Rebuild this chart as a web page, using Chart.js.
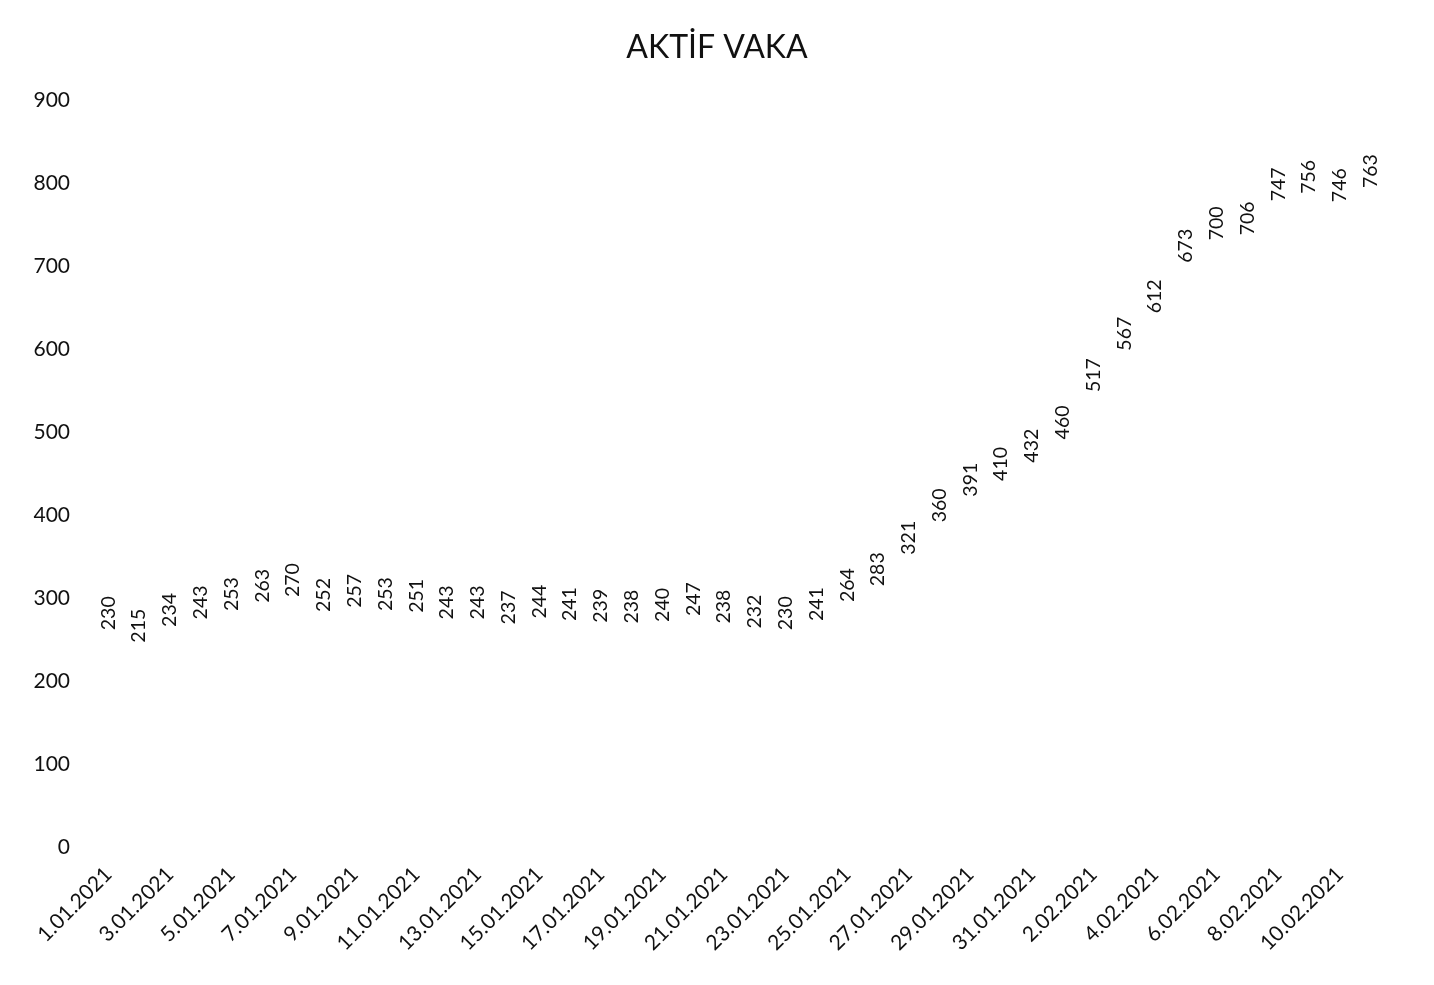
<!DOCTYPE html>
<html>
<head>
<meta charset="utf-8">
<script src="https://cdn.jsdelivr.net/npm/chart.js@4"></script>
<style>
  html, body { margin: 0; padding: 0; background: #ffffff; }
  #wrap { width: 1434px; height: 985px; }
</style>
</head>
<body>
<div id="wrap"><canvas id="c" width="1434" height="985"></canvas></div>
<script>
const titleText = 'AKTİF VAKA';
const categories = [
  '1.01.2021','2.01.2021','3.01.2021','4.01.2021','5.01.2021','6.01.2021','7.01.2021','8.01.2021','9.01.2021','10.01.2021',
  '11.01.2021','12.01.2021','13.01.2021','14.01.2021','15.01.2021','16.01.2021','17.01.2021','18.01.2021','19.01.2021','20.01.2021',
  '21.01.2021','22.01.2021','23.01.2021','24.01.2021','25.01.2021','26.01.2021','27.01.2021','28.01.2021','29.01.2021','30.01.2021',
  '31.01.2021','1.02.2021','2.02.2021','3.02.2021','4.02.2021','5.02.2021','6.02.2021','7.02.2021','8.02.2021','9.02.2021',
  '10.02.2021','11.02.2021'
];
const activeCases = [
  230, 215, 234, 243, 253, 263, 270, 252, 257, 253,
  251, 243, 243, 237, 244, 241, 239, 238, 240, 247,
  238, 232, 230, 241, 264, 283, 321, 360, 391, 410,
  432, 460, 517, 567, 612, 673, 700, 706, 747, 756,
  746, 763
];
const yTicks = [0, 100, 200, 300, 400, 500, 600, 700, 800, 900];

const FONT = 'Lato, "Open Sans", sans-serif';
const TEXT = '#111111';

const valueLabels = {
  id: 'valueLabels',
  afterDatasetsDraw(chart) {
    const ctx = chart.ctx;
    const meta = chart.getDatasetMeta(0);
    const data = chart.data.datasets[0].data;
    ctx.save();
    ctx.fillStyle = TEXT;
    ctx.font = '19.5px ' + FONT;
    ctx.textAlign = 'left';
    ctx.textBaseline = 'middle';
    meta.data.forEach((pt, i) => {
      ctx.save();
      ctx.translate(pt.x, pt.y - 26);
      ctx.rotate(-Math.PI / 2);
      ctx.fillText(String(data[i]), 0, 0);
      ctx.restore();
    });
    ctx.restore();
  }
};

new Chart(document.getElementById('c'), {
  type: 'line',
  data: {
    labels: categories,
    datasets: [{
      label: titleText,
      data: activeCases,
      showLine: false,
      pointRadius: 0,
      pointHoverRadius: 0,
      borderColor: 'rgba(0,0,0,0)',
      backgroundColor: 'rgba(0,0,0,0)'
    }]
  },
  options: {
    responsive: false,
    animation: false,
    layout: { padding: 0 },
    plugins: {
      legend: { display: false },
      tooltip: { enabled: false },
      title: {
        display: true,
        text: titleText,
        color: TEXT,
        font: { family: FONT, size: 32, weight: 'normal' },
        padding: { top: 28, bottom: 34 }
      }
    },
    scales: {
      x: {
        type: 'category',
        offset: true,
        grid: { display: false, drawTicks: false },
        border: { display: false },
        ticks: {
          autoSkip: false,
          minRotation: 45,
          maxRotation: 45,
          padding: 15,
          color: TEXT,
          font: { family: FONT, size: 21 },
          callback: (v, i) => (i % 2 === 0 ? categories[i] : '')
        },
        afterFit(scale) { scale.height = 138; }
      },
      y: {
        min: 0,
        max: 900,
        afterBuildTicks(scale) { scale.ticks = yTicks.map(v => ({ value: v })); },
        grid: { display: false, drawTicks: false },
        border: { display: false },
        ticks: {
          padding: 23,
          color: TEXT,
          font: { family: FONT, size: 21 }
        },
        afterFit(scale) { scale.width = 93; }
      },
      yRight: {
        position: 'right',
        min: 0,
        max: 900,
        grid: { display: false, drawTicks: false },
        border: { display: false },
        ticks: { display: false },
        afterFit(scale) { scale.width = 48; }
      }
    }
  },
  plugins: [valueLabels]
});
</script>
</body>
</html>
